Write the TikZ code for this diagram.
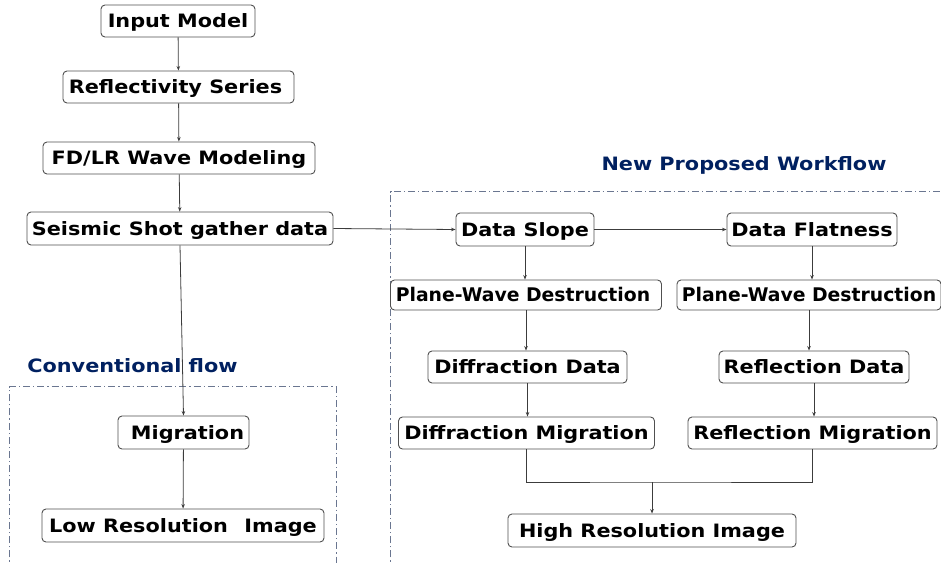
\documentclass[tikz,border=0pt]{standalone}
\usepackage{fontspec}
\setmainfont{DejaVu Sans}
\newfontfamily\boxfont[FakeStretch=1.13]{DejaVu Sans}
\newfontfamily\narrowfont{DejaVu Sans}
\usetikzlibrary{arrows.meta}
\definecolor{titleblue}{HTML}{002060}
\definecolor{frameline}{HTML}{6A7690}
\definecolor{boxline}{HTML}{505050}
\definecolor{linkline}{HTML}{3C3C3C}
\tikzset{
  stepbox/.style={draw=boxline, line width=0.9pt, rounded corners=4pt, fill=white,
    inner sep=2pt, minimum height=32pt, text height=13.4pt, text depth=0pt,
    font=\boxfont\fontsize{18.4}{20}\selectfont\bfseries},
  narrowbox/.style={stepbox, font=\narrowfont\fontsize{18.8}{20}\selectfont\bfseries},
  arr/.style={draw=linkline, line width=0.8pt, -{Stealth[length=4.5pt,width=3.5pt]}},
  link/.style={draw=linkline, line width=0.8pt},
  frame/.style={draw=frameline, line width=1pt, dash pattern=on 7pt off 3pt on 1.2pt off 3pt},
  heading/.style={text=titleblue, font=\boxfont\fontsize{18.4}{20}\selectfont\bfseries,
    inner sep=0pt, text height=13.4pt, text depth=0pt}
}
\begin{document}
\begin{tikzpicture}[x=1pt,y=-1pt]
\useasboundingbox (0,0) rectangle (941,562);
\clip (0,0) rectangle (941,562);

% group frames
\draw[frame] (9.5,600) -- (9.5,386.5) -- (336,386.5) -- (336,600);
\draw[frame] (390.5,600) -- (390.5,191.5) -- (960,191.5);

% headings
\node[heading] (convtitle) at (132.5,366) {Conventional flow};
\node[heading] (newtitle) at (744,164) {New Proposed Workflow};

% main chain
\node[stepbox, minimum width=154pt] (inp) at (178,21) {Input Model};
\node[stepbox, minimum width=231pt] (refl) at (178.5,87) {Reflectivity Series\hspace*{6pt}};
\node[stepbox, minimum width=272pt] (fdlr) at (179,158) {FD/LR Wave Modeling};
\node[stepbox, minimum width=306pt, minimum height=33pt] (shot) at (180,228.5) {Seismic Shot gather data};

% conventional branch
\node[stepbox, minimum width=131pt, minimum height=33pt] (mig) at (183.5,432.5) {\hspace*{8pt}Migration};
\node[stepbox, minimum width=282pt, minimum height=33pt] (low) at (183,525.5) {Low Resolution\hspace{0.5em} Image};

% proposed branch
\node[stepbox, minimum width=138pt, minimum height=33pt] (slope) at (525,229.5) {Data Slope};
\node[stepbox, minimum width=170pt, minimum height=33pt] (flat) at (812,229.5) {Data Flatness};
\node[narrowbox, minimum width=271pt, minimum height=30pt] (pwdL) at (526,295) {Plane-Wave Destruction\hspace*{6pt}};
\node[narrowbox, minimum width=264pt, minimum height=30pt] (pwdR) at (809,295) {Plane-Wave Destruction};
\node[stepbox, minimum width=199pt] (diffD) at (527.5,367) {Diffraction Data};
\node[stepbox, minimum width=190pt] (reflD) at (814,367) {Reflection Data};
\node[stepbox, minimum width=256pt] (diffM) at (526.5,433) {Diffraction Migration};
\node[stepbox, minimum width=249pt] (reflM) at (812.5,433) {Reflection Migration};
\node[stepbox, minimum width=288pt, minimum height=33pt] (high) at (652,530.5) {High Resolution Image};

\coordinate (join) at (652,482);

% connectors
\draw[arr] (inp) -- (refl);
\draw[arr] (refl) -- (fdlr);
\draw[arr] (fdlr) -- (shot);
\draw[arr] (shot.south) -- (mig.north);
\draw[arr] (mig) -- (low);
\draw[arr] (shot.east) -- (slope.west);
\draw[arr] (slope) -- (flat);
\draw[arr] (slope.south) -- (slope.south |- pwdL.north);
\draw[arr] (flat.south) -- (flat.south |- pwdR.north);
\draw[arr] (pwdL.south) -- (pwdL.south |- diffD.north);
\draw[arr] (pwdR.south) -- (pwdR.south |- reflD.north);
\draw[arr] (diffD.south) -- (diffD.south |- diffM.north);
\draw[arr] (reflD.south) -- (reflD.south |- reflM.north);
\draw[link] (diffM.south) |- (join) -| (reflM.south);
\draw[arr] (join) -- (high.north);
\end{tikzpicture}
\end{document}
